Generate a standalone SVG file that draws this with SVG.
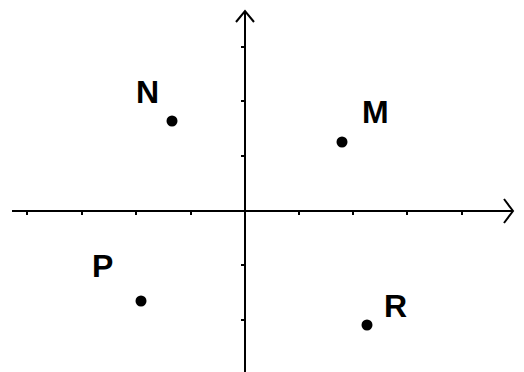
<svg xmlns="http://www.w3.org/2000/svg" width="524" height="372" viewBox="0 0 524 372">
<style>
.ax{stroke:#000;stroke-width:2;fill:none}
.tk{stroke:#000;stroke-width:2}
.dot{fill:#000}
.lb{font-family:"Liberation Sans",Arial,sans-serif;font-weight:bold;font-size:32px;fill:#000}
</style>
<rect width="524" height="372" fill="#fff"/>
<g id="connectors">
<line class="ax" x1="12" y1="211" x2="513" y2="211"/>
<polyline class="ax" points="504,199 513,211 504,223"/>
<line class="ax" x1="245" y1="11" x2="245" y2="372"/>
<polyline class="ax" points="236,22 245,11 254,22"/>
<g class="tk">
<line x1="27" y1="211" x2="27" y2="215"/>
<line x1="82" y1="211" x2="82" y2="215"/>
<line x1="136" y1="211" x2="136" y2="215"/>
<line x1="191" y1="211" x2="191" y2="215"/>
<line x1="299" y1="211" x2="299" y2="215"/>
<line x1="353" y1="211" x2="353" y2="215"/>
<line x1="407" y1="211" x2="407" y2="215"/>
<line x1="462" y1="211" x2="462" y2="215"/>
<line x1="241" y1="47" x2="245" y2="47"/>
<line x1="241" y1="101" x2="245" y2="101"/>
<line x1="241" y1="156" x2="245" y2="156"/>
<line x1="241" y1="265" x2="245" y2="265"/>
<line x1="241" y1="320" x2="245" y2="320"/>
</g>
</g>
<g id="N"><circle class="dot" cx="172" cy="121" r="5.5"/><text class="lb" x="136" y="103">N</text></g>
<g id="M"><circle class="dot" cx="342" cy="142" r="5.5"/><text class="lb" x="362" y="123">M</text></g>
<g id="P"><circle class="dot" cx="141" cy="301" r="5.5"/><text class="lb" x="92" y="277">P</text></g>
<g id="R"><circle class="dot" cx="367" cy="325" r="5.5"/><text class="lb" x="384" y="317">R</text></g>
</svg>
